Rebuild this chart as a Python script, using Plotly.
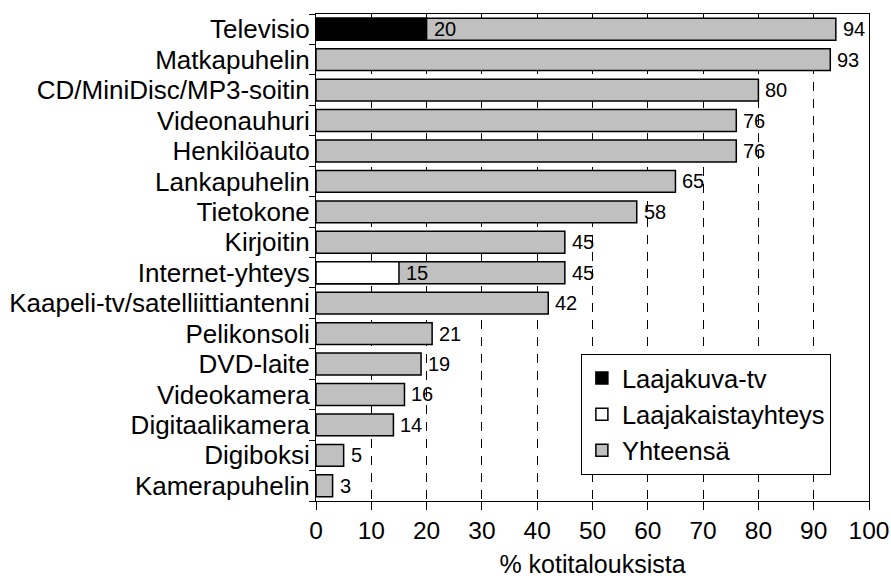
import plotly.graph_objects as go

categories = ["Televisio", "Matkapuhelin", "CD/MiniDisc/MP3-soitin", "Videonauhuri",
              "Henkilöauto", "Lankapuhelin", "Tietokone", "Kirjoitin", "Internet-yhteys",
              "Kaapeli-tv/satelliittiantenni", "Pelikonsoli", "DVD-laite", "Videokamera",
              "Digitaalikamera", "Digiboksi", "Kamerapuhelin"]
yhteensa = [94, 93, 80, 76, 76, 65, 58, 45, 45, 42, 21, 19, 16, 14, 5, 3]
laajakuva_cat = ["Televisio"]
laajakuva = [20]
laajakaista_cat = ["Internet-yhteys"]
laajakaista = [15]
x_ticks = [0, 10, 20, 30, 40, 50, 60, 70, 80, 90, 100]

FONT = "Liberation Sans, Arial, sans-serif"
W = 0.72

fig = go.Figure()
fig.add_trace(go.Bar(y=categories, x=yhteensa, orientation="h", name="Yhteensä",
                     marker=dict(color="#C0C0C0", line=dict(color="black", width=1.5)),
                     width=W, legendrank=3))
fig.add_trace(go.Bar(y=laajakuva_cat, x=laajakuva, orientation="h", name="Laajakuva-tv",
                     marker=dict(color="black", line=dict(color="black", width=1.5)),
                     width=W, legendrank=1))
fig.add_trace(go.Bar(y=laajakaista_cat, x=laajakaista, orientation="h", name="Laajakaistayhteys",
                     marker=dict(color="white", line=dict(color="black", width=1.5)),
                     width=W, legendrank=2))

annotations = []
for c, v in zip(categories, yhteensa):
    annotations.append(dict(x=v, y=c, text=str(v), showarrow=False, xanchor="left",
                            xshift=5, font=dict(size=20, color="black", family=FONT)))
for c, v in list(zip(laajakuva_cat, laajakuva)) + list(zip(laajakaista_cat, laajakaista)):
    annotations.append(dict(x=v, y=c, text=str(v), showarrow=False, xanchor="left",
                            xshift=5, font=dict(size=20, color="black", family=FONT)))

fig.update_layout(
    width=891, height=583,
    barmode="overlay",
    plot_bgcolor="white", paper_bgcolor="white",
    margin=dict(l=316, r=22, t=14, b=82),
    font=dict(family=FONT, color="black", size=25),
    annotations=annotations,
    legend=dict(x=0.479, y=0.302, xanchor="left", yanchor="top",
                bordercolor="black", borderwidth=1, bgcolor="white",
                font=dict(size=25.5, family=FONT), traceorder="normal",
                itemwidth=30, tracegroupgap=0),
    xaxis=dict(range=[0, 100], tickvals=x_ticks, ticks="outside", ticklen=8,
               tickcolor="black", showline=True, linecolor="black", linewidth=1,
               mirror=True, showgrid=True, gridcolor="black", gridwidth=1,
               griddash="9px,8px", zeroline=False, automargin=False,
               tickfont=dict(size=24.5, family=FONT),
               title=dict(text="% kotitalouksista", font=dict(size=25, family=FONT),
                          standoff=12)),
    yaxis=dict(autorange="reversed", categoryorder="array", categoryarray=categories,
               tickmode="array", tickvals=categories, ticktext=categories,
               showline=True, linecolor="black", linewidth=1, mirror=True,
               ticks="outside", ticklen=6, tickcolor="black", tickson="boundaries",
               showgrid=False, automargin=False, tickfont=dict(size=26, family=FONT)),
)

fig.write_html("out.html", config={"displayModeBar": False},
               post_script="document.body.style.margin='0';document.body.style.overflow='hidden';")
